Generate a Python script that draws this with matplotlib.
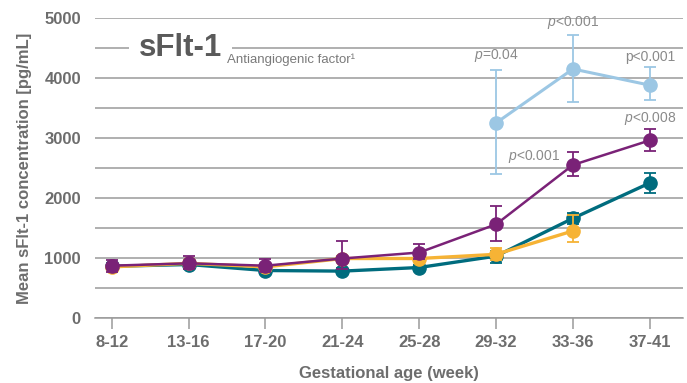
import matplotlib.pyplot as plt
from matplotlib.ticker import MultipleLocator

plt.rcParams['font.family'] = ['Liberation Sans', 'DejaVu Sans']
plt.rcParams['mathtext.fontset'] = 'custom'
plt.rcParams['mathtext.it'] = 'Liberation Sans:italic'
plt.rcParams['mathtext.rm'] = 'Liberation Sans'

# gestational age groups
weeks = ['8-12', '13-16', '17-20', '21-24', '25-28', '29-32', '33-36', '37-41']

# series: mean sFlt-1 with error bar ends (low, high)
teal_mean = [860, 890, 790, 780, 840, 1030, 1660, 2250]
teal_lo = [800, 840, 740, 730, 790, 920, 1560, 2090]
teal_hi = [920, 940, 840, 830, 890, 1120, 1750, 2420]

yellow_mean = [850, 910, 850, 990, 990, 1060, 1450]
yellow_lo = [800, 860, 800, 940, 940, 960, 1260]
yellow_hi = [900, 960, 900, 1040, 1040, 1170, 1720]

purple_mean = [870, 910, 870, 990, 1090, 1560, 2550, 2960]
purple_lo = [770, 820, 760, 820, 980, 1280, 2360, 2780]
purple_hi = [970, 1030, 990, 1280, 1230, 1870, 2760, 3150]

blue_mean = [3250, 4150, 3880]
blue_lo = [2400, 3600, 3630]
blue_hi = [4130, 4720, 4180]
blue_idx = [5, 6, 7]

# p-value annotations: (x index, y value, text)
p_labels = [
    (5, 4230, r'$p$=0.04'),
    (6, 4790, r'$p$<0.001'),
    (7, 4230, 'p<0.001'),
    (7, 3180, r'$p$<0.008'),
    (5.49, 2550, r'$p$<0.001'),
]

grey = '#6d6d6d'


def draw(ax, xs, mean, lo, hi, color, lw, z):
    err = [[m - l for m, l in zip(mean, lo)], [h - m for m, h in zip(mean, hi)]]
    ax.errorbar(xs, mean, yerr=err, color=color, lw=lw, marker='o', ms=9.5,
                elinewidth=1.3, capsize=4, capthick=1.3, zorder=z)


fig = plt.figure(figsize=(6.87, 3.83), dpi=100)
ax = fig.add_axes([0.138, 0.170, 0.856, 0.783])

draw(ax, list(range(8)), teal_mean, teal_lo, teal_hi, '#006c7e', 2.4, 3)
draw(ax, list(range(7)), yellow_mean, yellow_lo, yellow_hi, '#f6b335', 2.4, 4)
draw(ax, list(range(8)), purple_mean, purple_lo, purple_hi, '#7a2277', 1.8, 5)
draw(ax, blue_idx, blue_mean, blue_lo, blue_hi, '#9cc7e4', 2.2, 6)

for x, y, t in p_labels:
    ax.text(x, y, t, ha='center', va='bottom', fontsize=10, color='#8a8a8a', zorder=7)

ax.set_xlim(-0.22, 7.43)
ax.set_ylim(0, 5000)
ax.set_xticks(range(8))
ax.set_xticklabels(weeks)
ax.yaxis.set_major_locator(MultipleLocator(1000))
ax.yaxis.set_minor_locator(MultipleLocator(500))
ax.grid(axis='y', which='both', color='#9a9a9a', lw=1.1, zorder=0)
ax.set_axisbelow(True)

for s in ['top', 'right', 'left']:
    ax.spines[s].set_visible(False)
ax.spines['bottom'].set_color('#9a9a9a')
ax.spines['bottom'].set_linewidth(1.1)

ax.tick_params(axis='y', which='both', length=0, pad=10, labelsize=12, labelcolor=grey)
ax.tick_params(axis='x', length=8, width=1.1, color='#9a9a9a', pad=4, labelsize=12, labelcolor=grey)
for lab in ax.get_xticklabels() + ax.get_yticklabels():
    lab.set_fontweight('bold')

ax.set_ylabel('Mean sFlt-1 concentration [pg/mL]', fontsize=12, fontweight='bold', color=grey, labelpad=9)
ax.set_xlabel('Gestational age (week)', fontsize=12, fontweight='bold', color=grey, labelpad=12)

# title block sitting on the 4500 gridline
ax.text(0.35, 4500, 'sFlt-1', fontsize=22.5, fontweight='bold', color='#5a5a5a', va='center', ha='left',
        zorder=8, bbox=dict(facecolor='white', edgecolor='none', pad=7))
ax.text(1.5, 4200, 'Antiangiogenic factor\u00b9', fontsize=9.5, color='#7a7a7a', va='bottom', ha='left', zorder=8)

fig.savefig('out.png', dpi=100)
